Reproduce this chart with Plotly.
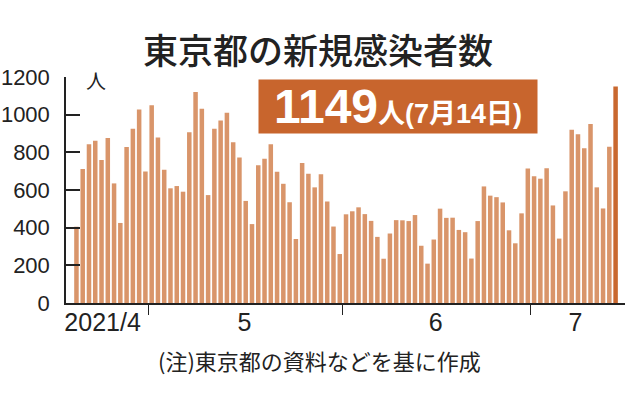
import pandas as pd
import plotly.graph_objects as go

# ---- data ----
start_date = "2021-04-19"
cases = [405, 711, 843, 861, 759, 876, 635, 425, 828, 925, 1027, 698,
         1050, 879, 708, 609, 621, 591, 907, 1121, 1032, 573, 925, 969, 1010, 854, 772, 542,
         419, 732, 766, 843, 697, 633, 535, 340, 743, 686, 614, 684, 539, 406, 260,
         471, 487, 508, 472, 436, 351, 235, 369, 440, 439, 435, 467, 304, 209, 337,
         501, 452, 453, 388, 376, 236, 435, 619, 570, 562, 534, 386, 317, 476, 714,
         673, 660, 716, 518, 342, 593, 920, 896, 822, 950, 614, 502, 830, 1149]
dates = pd.date_range(start_date, periods=len(cases), freq="D")
month_labels = ["2021/4", "5", "6", "7"]
month_label_pos = ["2021-04-23 04:00", "2021-05-15 19:00", "2021-06-15 07:00", "2021-07-07 14:00"]
month_bounds = ["2021-04-30 12:00", "2021-05-31 12:00", "2021-06-30 12:00"]
y_ticks = [0, 200, 400, 600, 800, 1000, 1200]

BAR = "#d9956a"
LAST = "#c9682f"
BOX = "#c8652d"
INK = "#222222"
NUM_FONT = "Liberation Sans Narrow, Liberation Sans, Arial, sans-serif"
JP_FONT = "Noto Sans CJK JP, sans-serif"

colors = [BAR] * (len(cases) - 1) + [LAST]

fig = go.Figure(go.Bar(
    x=dates, y=cases, marker=dict(color=colors, line=dict(width=0)),
    hoverinfo="x+y",
))

x_start = dates[0] - pd.Timedelta(hours=40)
x_end = dates[-1] + pd.Timedelta(hours=36)

fig.update_layout(
    width=638, height=395,
    margin=dict(l=66, r=13, t=77, b=92, autoexpand=False),
    paper_bgcolor="white", plot_bgcolor="white",
    bargap=0.28,
    showlegend=False,
    xaxis=dict(
        type="date", range=[x_start, x_end], automargin=False,
        tickmode="array", tickvals=month_label_pos, ticktext=month_labels,
        ticks="", showgrid=False, zeroline=False,
        showline=True, linecolor=INK, linewidth=1.5,
        tickfont=dict(family=NUM_FONT, size=25, color=INK),
        ticklabelstandoff=-4,
        minor=dict(tickmode="array", tickvals=month_bounds, ticks="outside",
                   ticklen=10, tickwidth=1.2, tickcolor=INK, showgrid=False),
    ),
    yaxis=dict(
        range=[0, 1200], tickmode="array", tickvals=y_ticks, automargin=False,
        ticks="inside", ticklen=14, tickwidth=1.5, tickcolor=INK,
        showline=True, linecolor=INK, linewidth=1.5,
        showgrid=False, zeroline=False,
        tickfont=dict(family=NUM_FONT, size=22, color=INK),
        ticklabelstandoff=10,
    ),
)

last = dates[-1]
headline = (f"<b><span style='font-size:48px'>{cases[-1]}</span>"
            f"<span style='font-size:27px'>人({last.month}月{last.day}日)</span></b>")

fig.add_annotation(
    text="東京都の新規感染者数", xref="paper", yref="paper",
    x=0.4503, y=1.124, xanchor="center", yanchor="middle", showarrow=False,
    font=dict(family=JP_FONT, size=35, color=INK, weight=500),
)
fig.add_annotation(
    text=headline, xref="paper", yref="paper",
    x=0.5936, y=0.8695, xanchor="center", yanchor="middle", showarrow=False,
    bgcolor=BOX, width=272, height=47, borderpad=3,
    font=dict(family="Liberation Sans, Noto Sans CJK JP, sans-serif", color="white"),
)
fig.add_annotation(
    text="人", xref="paper", yref="paper",
    x=0.053, y=0.985, xanchor="center", yanchor="middle", showarrow=False,
    font=dict(family=JP_FONT, size=20, color=INK),
)
fig.add_annotation(
    text="(注)東京都の資料などを基に作成", xref="paper", yref="paper",
    x=0.4526, y=-0.252, xanchor="center", yanchor="middle", showarrow=False,
    font=dict(family=JP_FONT, size=22, color=INK),
)

fig.write_html("out.html", config={"displayModeBar": False},
               post_script="document.body.style.margin='0';")
